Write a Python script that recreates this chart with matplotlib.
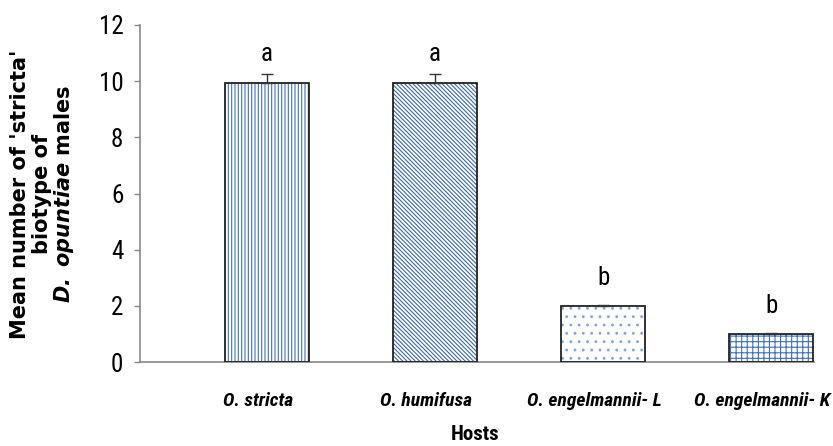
import matplotlib
matplotlib.use("Agg")
import matplotlib.pyplot as plt
from matplotlib import font_manager
from matplotlib.transforms import ScaledTranslation

# data
hosts = ["O. stricta", "O. humifusa", "O. engelmannii- L", "O. engelmannii- K"]
means = [9.95, 9.95, 2.0, 1.0]
errors = [0.3, 0.3, 0.05, 0.05]
letters = ["a", "a", "b", "b"]
letter_y = [10.95, 10.95, 3.0, 2.0]
hatches = ["|||||", "\\" * 8, "..", "+++"]
hatch_colors = ["#3f72b5", "#3a6aaa", "#7aa3d6", "#3f72b5"]

# pick a narrow (Calibri-like) family if one is installed
installed = {f.name for f in font_manager.fontManager.ttflist}
narrow_name = "Roboto"
is_narrow = False
for cand in ["Liberation Sans Narrow", "Roboto Condensed", "DejaVu Sans Condensed",
             "Open Sans Condensed", "Noto Sans Condensed"]:
    if cand in installed:
        narrow_name = cand
        is_narrow = True
        break
narrow = [narrow_name, "DejaVu Sans"]
tick_fs = 18 if is_narrow else 15
xlab_fs = 14 if is_narrow else 11

plt.rcParams["mathtext.fontset"] = "custom"
plt.rcParams["mathtext.bfit"] = "DejaVu Sans:italic:bold"
plt.rcParams["hatch.linewidth"] = 0.8

fig = plt.figure(figsize=(8.33, 4.46), dpi=100)
ax = fig.add_axes([0.168, 0.188, 0.809, 0.756])

x = list(range(len(hosts)))
# hatched fill first, then the black outline on top
for xi, m, h, hc in zip(x, means, hatches, hatch_colors):
    ax.bar(xi, m, width=0.5, color="white", edgecolor=hc,
           hatch=h, linewidth=0, zorder=2)
ax.bar(x, means, width=0.5, color="none", edgecolor="#222222",
       linewidth=1.3, zorder=3)
ax.errorbar(x, means, yerr=[[0] * len(errors), errors], fmt="none",
            ecolor="#333333", elinewidth=1, capsize=4, capthick=1, zorder=4)

for xi, lab, ly in zip(x, letters, letter_y):
    ax.text(xi, ly, lab, ha="center", va="center", fontsize=tick_fs,
            family=narrow)

ax.set_xlim(-0.756, 3.253)
ax.set_ylim(0, 12)
ax.set_yticks(range(0, 13, 2))
ax.set_xticks(x)
ax.set_xticklabels([])
# category labels, a little left of the bar centres as in the original
lab_tr = ax.get_xaxis_transform() + ScaledTranslation(-9 / 100, -30 / 100,
                                                      fig.dpi_scale_trans)
for xi, name in zip(x, hosts):
    ax.text(xi, 0, name, transform=lab_tr, ha="center", va="top",
            fontsize=xlab_fs, fontweight="bold", style="italic", family=narrow)
for lab in ax.get_yticklabels():
    lab.set_family(narrow)
    lab.set_fontsize(tick_fs)

ax.tick_params(axis="x", length=0)
ax.tick_params(axis="y", length=4, width=1, color="#888888", pad=8)
for s in ["top", "right"]:
    ax.spines[s].set_visible(False)
for s in ["left", "bottom"]:
    ax.spines[s].set_color("#888888")
    ax.spines[s].set_linewidth(1.2)

fig.text(0.570, 0.025, "Hosts", ha="center", va="center", fontsize=xlab_fs + 1,
         fontweight="bold", family=narrow)

fig.text(0.024, 0.565, "Mean number of 'stricta'", rotation=90,
         ha="center", va="center", fontsize=15, fontweight="bold")
fig.text(0.050, 0.565, "biotype of", rotation=90,
         ha="center", va="center", fontsize=15, fontweight="bold")
fig.text(0.077, 0.565, r"$\mathbfit{D.\ opuntiae}$ males", rotation=90,
         ha="center", va="center", fontsize=15, fontweight="bold")

fig.savefig("out.png", dpi=100)
